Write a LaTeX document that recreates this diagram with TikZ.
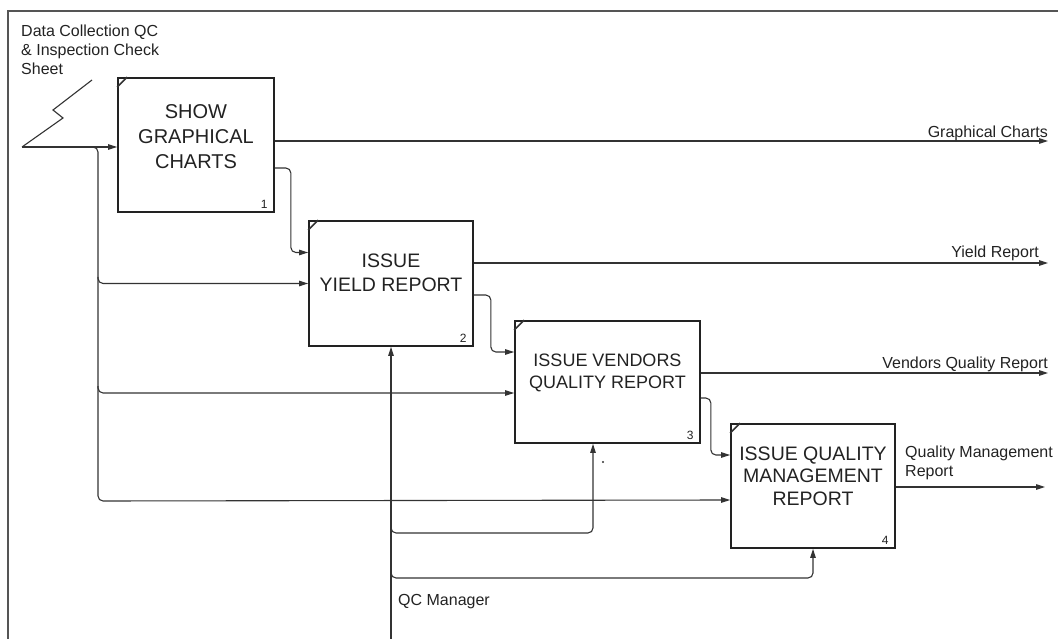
\documentclass[tikz,border=0pt]{standalone}
\usepackage{fontspec}
\setmainfont{Liberation Sans}
\usetikzlibrary{calc, arrows.meta}

\definecolor{boxink}{HTML}{222222}
\definecolor{lineink}{HTML}{333333}
\definecolor{frameink}{HTML}{555555}

\begin{document}
\begin{tikzpicture}[x=1pt, y=-1pt, >={Triangle[length=9pt, width=5.5pt]}]

  % Styles for the activity boxes, arrows and labels
  \tikzset{
    actbox/.style={draw=boxink, line width=1.7pt, inner sep=0pt},
    acttext/.style={align=center, text=boxink, inner sep=0pt},
    boxnum/.style={font=\fontsize{12}{14}\selectfont, text=boxink, anchor=south east, inner sep=0pt},
    wire/.style={draw=lineink, line width=1.1pt},
    flow/.style={wire, rounded corners=5pt},
    lbl/.style={font=\fontsize{16}{19}\selectfont, text=boxink, inner sep=0pt},
    frame/.style={draw=frameink, line width=1.6pt}
  }

  \useasboundingbox (0,0) rectangle (1058,639);

  % Page frame (only left and top edges are visible)
  \draw[frame] (8,639) -- (8,11) -- (1058,11);

  % 1. Activity boxes
  \node[actbox, minimum width=156pt, minimum height=134pt] (show) at (196,145) {};
  \node[actbox, minimum width=164pt, minimum height=125pt] (yield) at (391,283.5) {};
  \node[actbox, minimum width=185pt, minimum height=122pt] (vendor) at (607.5,382) {};
  \node[actbox, minimum width=164pt, minimum height=124pt] (qmr) at (813,486) {};

  % Box titles (set a little above the centre)
  \node[acttext, font=\fontsize{20}{25}\selectfont] at ([yshift=8pt]show.center) {SHOW\\GRAPHICAL\\CHARTS};
  \node[acttext, font=\fontsize{19.5}{24}\selectfont] at ([yshift=10.5pt]yield.center) {ISSUE\\YIELD REPORT};
  \node[acttext, font=\fontsize{18}{22}\selectfont] at ([yshift=9pt]vendor.center) {ISSUE VENDORS\\QUALITY REPORT};
  \node[acttext, font=\fontsize{19.5}{22.5}\selectfont] at ([yshift=10pt]qmr.center) {ISSUE QUALITY\\MANAGEMENT\\REPORT};

  % Box numbers and the small corner ticks
  \foreach \b/\n in {show/1, yield/2, vendor/3, qmr/4} {
    \node[boxnum] at ([xshift=-7pt, yshift=4pt]\b.south east) {\n};
    \draw[wire, line width=1.5pt] ($(\b.north west)+(0,10)$) -- ($(\b.north west)+(10,0)$);
  }

  % 2. Free ends and junctions of the arrows
  \coordinate (src) at (22,147);
  \coordinate (split) at (98,147);
  \coordinate (tapA) at (98,284);
  \coordinate (tapB) at (98,393);
  \coordinate (tapC) at (98,501);
  \coordinate (mech) at (391,639);
  \coordinate (ctlA) at (391,533);
  \coordinate (ctlB) at (391,578);
  \coordinate (out1) at (1048,141);
  \coordinate (out2) at (1048,263);
  \coordinate (out3) at (1048,373);
  \coordinate (out4) at (1045,487);

  % --- INPUT ---
  \draw[wire] (92,80) -- (53,110) -- (63,118) -- (src);
  \draw[wire, ->] (src) -- (show.west |- src);
  \draw[flow, ->] ($(split)+(-8,0)$) -| (tapC) -- ([yshift=-14pt]qmr.west);
  \draw[flow, ->] ($(tapA)+(0,-7)$) |- (yield.west);
  \draw[flow, ->] ($(tapB)+(0,-7)$) |- ([yshift=-11pt]vendor.west);
  \node[lbl, anchor=north west, align=left] (datalbl) at (21,25) {Data Collection QC\\\& Inspection Check\\Sheet};

  % --- BOX TO BOX ---
  \draw[flow, ->] ([yshift=-23pt]show.east) -- ++(16,0) |- ([yshift=31pt]yield.west);
  \draw[flow, ->] ([yshift=-11.5pt]yield.east) -- ++(17,0) |- ([yshift=30pt]vendor.west);
  \draw[flow, ->] ([yshift=-16pt]vendor.east) -- ++(10,0) |- ([yshift=31pt]qmr.west);

  % --- OUTPUTS ---
  \draw[wire, ->] (show.east |- out1) -- (out1);
  \draw[wire, ->] (yield.east |- out2) -- (out2);
  \draw[wire, ->] (vendor.east |- out3) -- (out3);
  \draw[wire, ->] (qmr.east |- out4) -- (out4);
  \node[lbl, anchor=base east] (chartlbl) at (1048,138) {Graphical Charts};
  \node[lbl, anchor=base east] (yieldlbl) at (1039,258) {Yield Report};
  \node[lbl, anchor=base east] (vendorlbl) at (1048,368) {Vendors Quality Report};
  \node[lbl, anchor=north west, align=left] (qmrlbl) at (905,446) {Quality Management\\Report};

  % --- MECHANISM ---
  \draw[wire, ->] (mech) -- (yield.south);
  \draw[flow, ->] ($(ctlA)+(0,-7)$) -- (ctlA) -| ([xshift=-14.5pt]vendor.south);
  \draw[flow, ->] ($(ctlB)+(0,-7)$) -- (ctlB) -| (qmr.south);
  \node[lbl, anchor=north west] (mgrlbl) at (398,594) {QC Manager};
  \fill[lineink] (603,462) circle (1.1pt);

\end{tikzpicture}
\end{document}
